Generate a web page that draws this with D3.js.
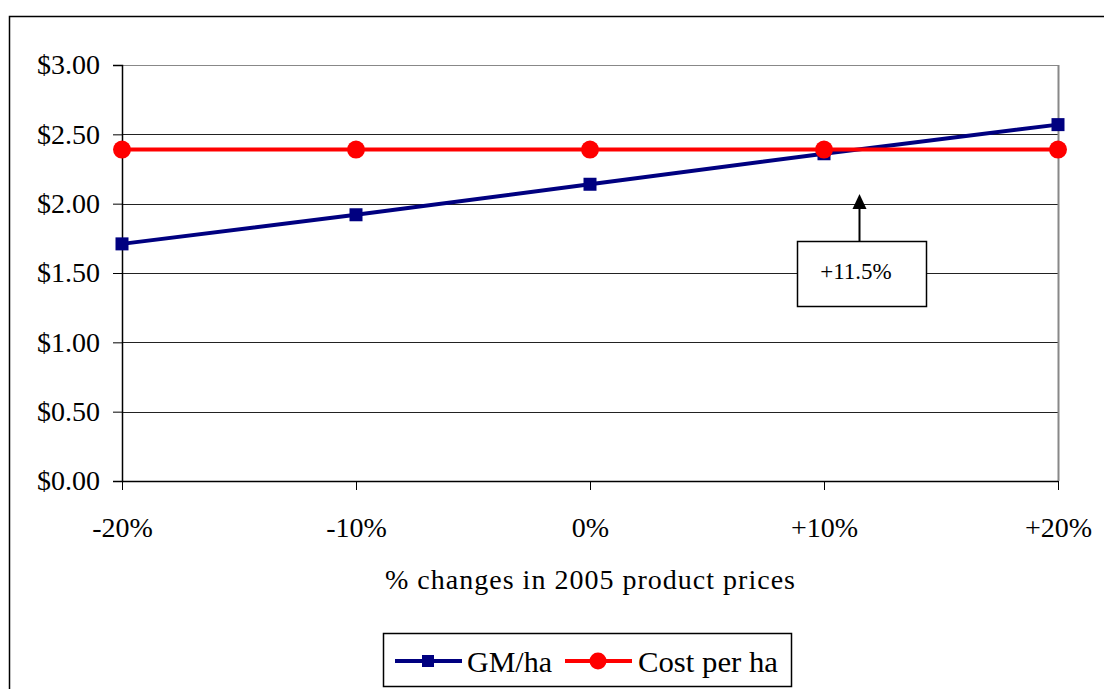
<!DOCTYPE html>
<html>
<head>
<meta charset="utf-8">
<script src="https://cdn.jsdelivr.net/npm/d3@7"></script>
<style>
  html, body { margin: 0; padding: 0; background: #fff; }
  svg { display: block; }
  text { font-family: "Liberation Serif", "Times New Roman", serif; fill: #000; }
</style>
</head>
<body>
<svg id="chart" width="1104" height="689"></svg>
<script>
// Price-change scenarios and the two series per scenario
const categories = ["-20%", "-10%", "0%", "+10%", "+20%"];
const gmPerHa = [1.71, 1.92, 2.14, 2.36, 2.57];
const costPerHa = [2.39, 2.39, 2.39, 2.39, 2.39];
const yTicks = [0, 0.5, 1, 1.5, 2, 2.5, 3];
const breakEven = { position: 3.15, label: "+11.5%" }; // index units along the category axis
const seriesNames = ["GM/ha", "Cost per ha"];
const axisTitle = "% changes in 2005 product prices";

const svg = d3.select("#chart");
const W = 1104, H = 689;
const plot = { left: 122, right: 1058, top: 65, bottom: 481 };
const FONT = "Liberation Serif, serif";

// Outer frame (top and left edges visible)
svg.append("path")
  .attr("d", `M9.5,${H} V16.5 H${W}`)
  .attr("fill", "none").attr("stroke", "#000").attr("stroke-width", 1.5);

const x = d3.scalePoint().domain(categories).range([plot.left, plot.right]);
const y = d3.scaleLinear().domain([0, 3]).range([plot.bottom, plot.top]);

// Horizontal gridlines
svg.append("g").selectAll("line")
  .data(yTicks.filter(d => d > 0))
  .join("line")
  .attr("x1", plot.left).attr("x2", plot.right)
  .attr("y1", d => Math.round(y(d)) + 0.5).attr("y2", d => Math.round(y(d)) + 0.5)
  .attr("stroke", d => d === 3 ? "#888" : "#222").attr("stroke-width", 1);

// Right border of plot area
svg.append("line")
  .attr("x1", plot.right + 0.5).attr("x2", plot.right + 0.5)
  .attr("y1", plot.top).attr("y2", plot.bottom)
  .attr("stroke", "#888").attr("stroke-width", 2);

// Y axis
const yAxis = d3.axisLeft(y).tickValues(yTicks)
  .tickFormat(d => "$" + d3.format(".2f")(d)).tickSize(9).tickPadding(13);
const gy = svg.append("g").attr("transform", `translate(${plot.left},0)`).call(yAxis);
gy.select(".domain").attr("stroke", "#000").attr("stroke-width", 1.5);
gy.selectAll(".tick line").attr("stroke", "#000");
gy.selectAll(".tick text")
  .style("font-family", FONT).style("font-size", "28px").attr("fill", "#000");

// X axis
const xAxis = d3.axisBottom(x).tickSize(9).tickPadding(27);
const gx = svg.append("g").attr("transform", `translate(0,${plot.bottom})`).call(xAxis);
gx.select(".domain").attr("d", `M${plot.left},0.5H${plot.right}`)
  .attr("stroke", "#000").attr("stroke-width", 1.5);
gx.selectAll(".tick line").attr("stroke", "#000");
gx.selectAll(".tick text")
  .style("font-family", FONT).style("font-size", "28px").attr("fill", "#000");

// Axis title
svg.append("text")
  .attr("x", 385).attr("y", 589)
  .attr("textLength", 410).attr("lengthAdjust", "spacing")
  .style("font-size", "28px")
  .text(axisTitle);

const line = d3.line().x((d, i) => x(categories[i])).y(d => y(d));

// GM/ha series
svg.append("path").datum(gmPerHa)
  .attr("d", line).attr("fill", "none")
  .attr("stroke", "#000080").attr("stroke-width", 4);
svg.append("g").selectAll("rect").data(gmPerHa).join("rect")
  .attr("x", (d, i) => x(categories[i]) - 6.5).attr("y", d => y(d) - 6.5)
  .attr("width", 13).attr("height", 13).attr("fill", "#000080");

// Cost per ha series
svg.append("path").datum(costPerHa)
  .attr("d", line).attr("fill", "none")
  .attr("stroke", "#ff0000").attr("stroke-width", 4);
svg.append("g").selectAll("circle").data(costPerHa).join("circle")
  .attr("cx", (d, i) => x(categories[i])).attr("cy", d => y(d))
  .attr("r", 9).attr("fill", "#ff0000");

// Break-even annotation
const step = x.step();
const ax = Math.round(plot.left + breakEven.position * step) + 0.5;
const box = { x: 797.5, y: 241.5, w: 129, h: 65 };
svg.append("rect")
  .attr("x", box.x).attr("y", box.y).attr("width", box.w).attr("height", box.h)
  .attr("fill", "#fff").attr("stroke", "#000").attr("stroke-width", 1.5);
svg.append("line")
  .attr("x1", ax).attr("x2", ax).attr("y1", box.y).attr("y2", 207)
  .attr("stroke", "#000").attr("stroke-width", 2);
svg.append("path")
  .attr("d", `M${ax},194 L${ax - 7},209 L${ax + 7},209 Z`).attr("fill", "#000");
svg.append("text")
  .attr("x", 856).attr("y", box.y + 37)
  .attr("text-anchor", "middle").style("font-size", "23px")
  .text(breakEven.label);

// Legend
const lg = svg.append("g");
lg.append("rect")
  .attr("x", 383.5).attr("y", 633.5).attr("width", 408).attr("height", 53)
  .attr("fill", "#fff").attr("stroke", "#000").attr("stroke-width", 1.5);
const ly = 661;
lg.append("line").attr("x1", 395).attr("x2", 462).attr("y1", ly).attr("y2", ly)
  .attr("stroke", "#000080").attr("stroke-width", 4);
lg.append("rect").attr("x", 422).attr("y", ly - 6).attr("width", 12).attr("height", 12)
  .attr("fill", "#000080");
lg.append("text").attr("x", 467).attr("y", ly + 11)
  .attr("textLength", 85).attr("lengthAdjust", "spacingAndGlyphs")
  .style("font-size", "29px").text(seriesNames[0]);
lg.append("line").attr("x1", 565).attr("x2", 632).attr("y1", ly).attr("y2", ly)
  .attr("stroke", "#ff0000").attr("stroke-width", 4);
lg.append("circle").attr("cx", 598).attr("cy", ly).attr("r", 8.5).attr("fill", "#ff0000");
lg.append("text").attr("x", 638).attr("y", ly + 11)
  .attr("textLength", 140).attr("lengthAdjust", "spacingAndGlyphs")
  .style("font-size", "29px").text(seriesNames[1]);
</script>
</body>
</html>
